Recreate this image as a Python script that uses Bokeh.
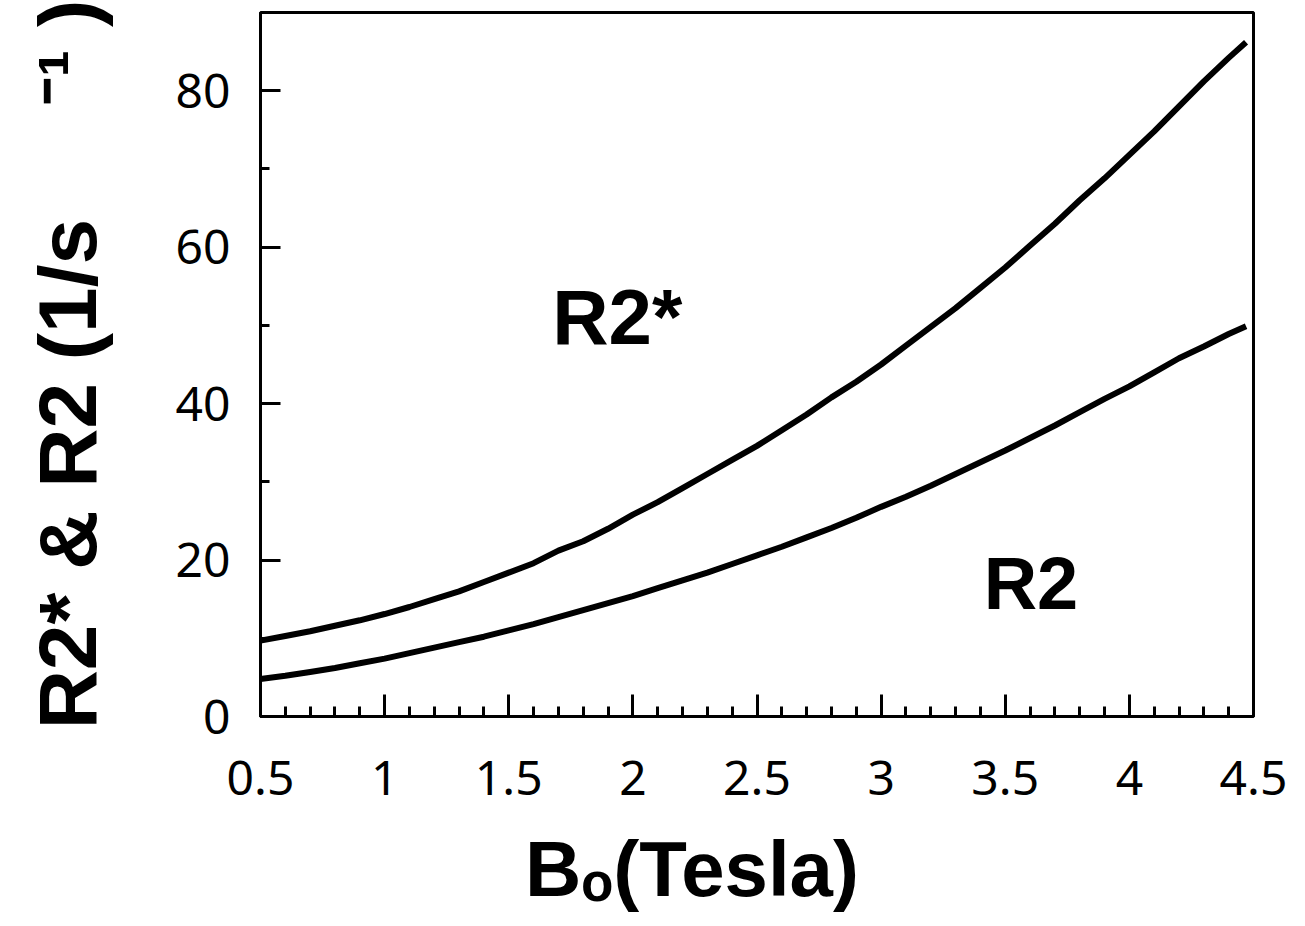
import math
from bokeh.plotting import figure
from bokeh.models import Range1d, FixedTicker, Label
from bokeh.embed import file_html
from bokeh.resources import INLINE

# ---- data ----
field_tesla = [0.5, 0.6, 0.7, 0.8, 0.9, 1.0, 1.1, 1.2, 1.3, 1.4, 1.5, 1.6, 1.7, 1.8, 1.9,
               2.0, 2.1, 2.2, 2.3, 2.4, 2.5, 2.6, 2.7, 2.8, 2.9, 3.0, 3.1, 3.2, 3.3, 3.4,
               3.5, 3.6, 3.7, 3.8, 3.9, 4.0, 4.1, 4.2, 4.3, 4.4, 4.47]
r2_star = [9.7, 10.3, 10.9, 11.6, 12.3, 13.1, 14.0, 15.0, 16.0, 17.2, 18.4, 19.6, 21.2, 22.4, 24.0,
           25.8, 27.4, 29.2, 31.0, 32.8, 34.6, 36.6, 38.6, 40.8, 42.8, 45.0, 47.4, 49.8, 52.2, 54.8,
           57.4, 60.2, 63.0, 66.0, 68.8, 71.8, 74.8, 78.0, 81.2, 84.2, 86.2]
r2 = [4.8, 5.2, 5.7, 6.2, 6.8, 7.4, 8.1, 8.8, 9.5, 10.2, 11.0, 11.8, 12.7, 13.6, 14.5,
      15.4, 16.4, 17.4, 18.4, 19.5, 20.6, 21.7, 22.9, 24.1, 25.4, 26.8, 28.1, 29.5, 31.0, 32.5,
      34.0, 35.6, 37.2, 38.9, 40.6, 42.2, 44.0, 45.8, 47.3, 48.9, 49.9]

x_major = [0.5, 1.0, 1.5, 2.0, 2.5, 3.0, 3.5, 4.0, 4.5]
x_labels = ["0.5", "1", "1.5", "2", "2.5", "3", "3.5", "4", "4.5"]
x_minor = [round(0.5 + 0.1 * i, 1) for i in range(41)]
y_major = [0, 20, 40, 60, 80]
y_labels = ["0", "20", "40", "60", "80"]
y_minor = [10, 30, 50, 70]

x_title = "B\u2092(Tesla)" + "\u00a0" * 6
y_title = "R2* & R2 (1/s" + "\u00a0" * 5 + "\u207b\u00b9\u00a0)"

W, H = 1289, 920
p = figure(width=W, height=H, output_backend="svg", toolbar_location=None,
           x_range=Range1d(0.5, 4.5), y_range=Range1d(0, 90),
           min_border_left=260, min_border_right=W - 1253, min_border_top=12,
           min_border_bottom=H - 716)
p.title.visible = False
p.grid.visible = False
p.background_fill_color = "white"
p.border_fill_color = "white"
p.outline_line_color = "black"
p.outline_line_width = 3

p.line(field_tesla, r2_star, line_color="black", line_width=6)
p.line(field_tesla, r2, line_color="black", line_width=6)

p.xaxis.ticker = FixedTicker(ticks=x_major, minor_ticks=x_minor)
p.yaxis.ticker = FixedTicker(ticks=y_major, minor_ticks=y_minor)
p.xaxis.major_label_overrides = {v: s for v, s in zip(x_major, x_labels)}
p.yaxis.major_label_overrides = {v: s for v, s in zip(y_major, y_labels)}

for ax in (p.xaxis[0], p.yaxis[0]):
    ax.axis_line_color = "black"
    ax.axis_line_width = 3
    ax.major_tick_line_color = "black"
    ax.major_tick_line_width = 3
    ax.minor_tick_line_color = "black"
    ax.minor_tick_line_width = 3
    ax.major_tick_out = 0
    ax.minor_tick_out = 0
    ax.major_label_text_font = "Noto Sans"
    ax.major_label_text_font_size = "48px"
    ax.major_label_text_color = "black"
    ax.axis_label_text_font = "Liberation Sans"
    ax.axis_label_text_font_style = "bold"
    ax.axis_label_text_color = "black"

p.xaxis.major_tick_in = 22
p.xaxis.minor_tick_in = 10
p.yaxis.major_tick_in = 20
p.yaxis.minor_tick_in = 9
p.xaxis.major_label_standoff = 44
p.yaxis.major_label_standoff = 30

p.xaxis.axis_label = x_title
p.xaxis.axis_label_text_font_size = "78px"
p.xaxis.axis_label_standoff = 27
p.yaxis.axis_label = y_title
p.yaxis.axis_label_text_font_size = "82px"
p.yaxis.axis_label_standoff = 60

bold = dict(text_font="Liberation Sans", text_font_style="bold", text_color="black")

# curve labels (inside the frame)
p.add_layout(Label(x=1.675, y=51.1, text="R2*", text_font_size="78px",
                   text_align="left", text_baseline="alphabetic", **bold))
p.add_layout(Label(x=3.413, y=17.0, text="R2", text_font_size="74px",
                   text_align="left", text_baseline="alphabetic", **bold))

open("out.html", "w").write(file_html(p, INLINE))
